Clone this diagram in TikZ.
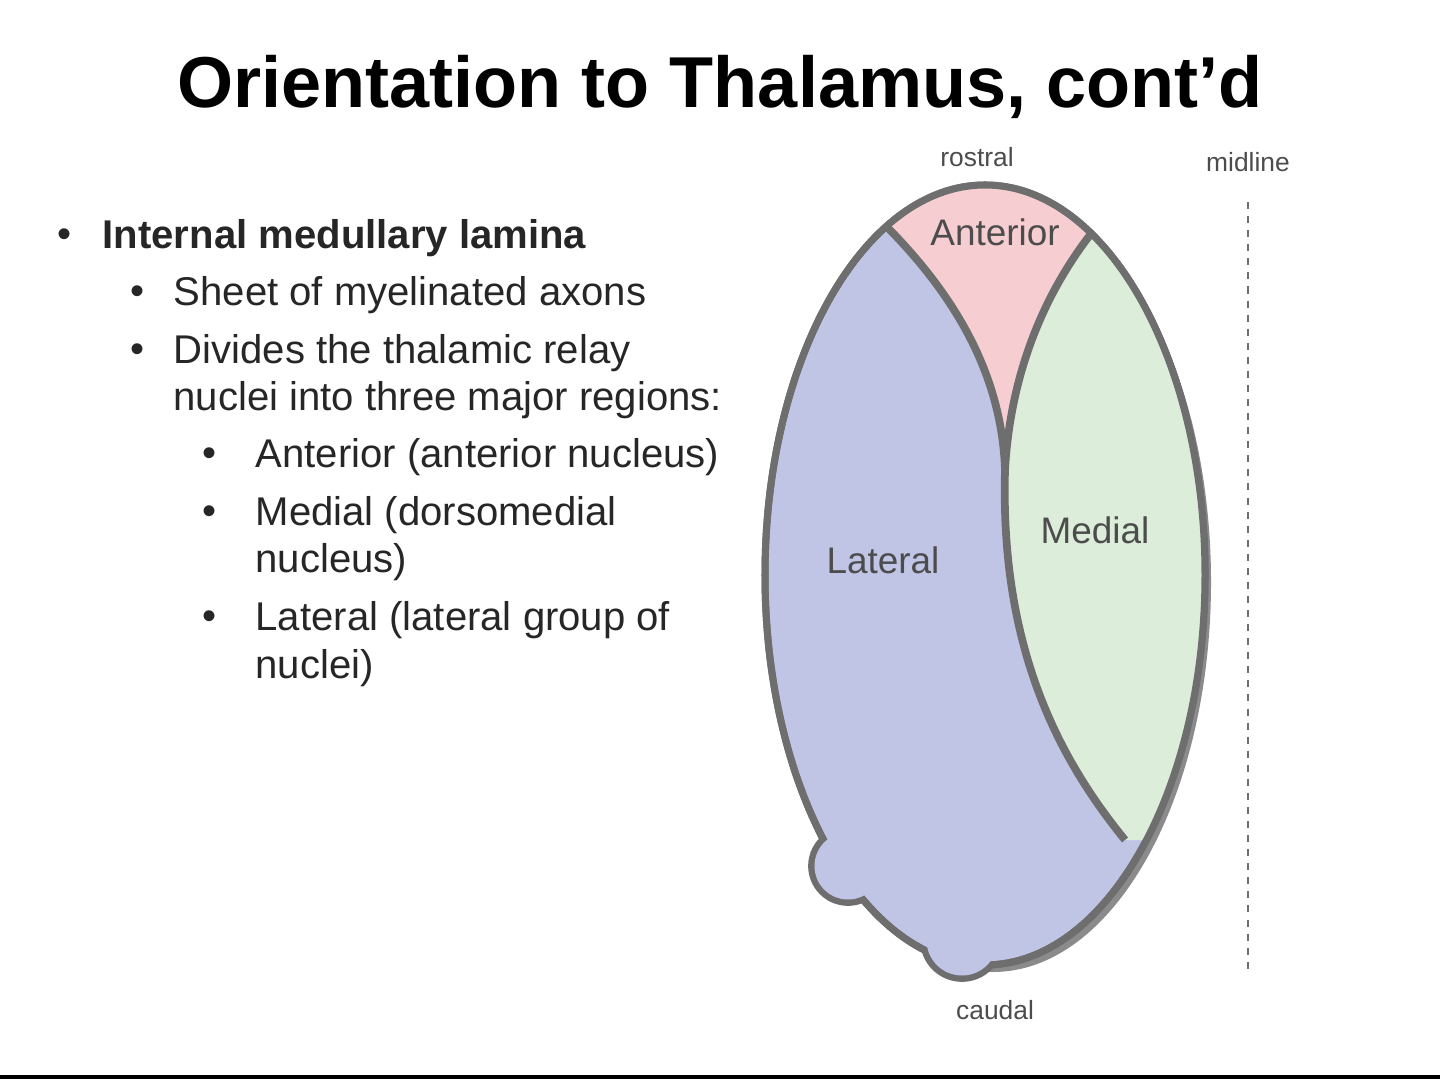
\documentclass[tikz,border=0pt]{standalone}
\usepackage{fontspec}
\setmainfont{Liberation Sans}
\usetikzlibrary{positioning}
\definecolor{latblue}{RGB}{192,197,230}
\definecolor{antpink}{RGB}{246,206,210}
\definecolor{medgreen}{RGB}{220,237,218}
\definecolor{rim}{RGB}{110,110,110}
\tikzset{
  item/.style={anchor=west, inner sep=0pt, font=\fontsize{11.4}{13}\selectfont, text=black!85},
  region/.style={font=\fontsize{10.5}{12}\selectfont, text=black!70},
  tag/.style={font=\fontsize{7.5}{9}\selectfont, text=black!70}
}
\begin{document}
\begin{tikzpicture}[x=0.01cm, y=-0.01cm]
    \useasboundingbox (0,0) rectangle (1440,1080);
    % Title
    \node[font=\fontsize{20.5}{22}\selectfont\bfseries] (title) at (720,87) {Orientation to Thalamus, cont’d};

    % Bullet list
    \node[item] (b1) at (57,238) {•};
    \node[item, font=\fontsize{11.4}{13}\selectfont\bfseries] (t1) at (102,238) {Internal medullary lamina};
    \node[item] (b2) at (130,295) {•};
    \node[item] (t2) at (173,295) {Sheet of myelinated axons};
    \node[item] (b3) at (130,353) {•};
    \node[item] (t3) at (173,353) {Divides the thalamic relay};
    \node[item] (t3b) at (173,400) {nuclei into three major regions:};
    \node[item] (b4) at (202,457) {•};
    \node[item] (t4) at (255,457) {Anterior (anterior nucleus)};
    \node[item] (b5) at (202,515) {•};
    \node[item] (t5) at (255,515) {Medial (dorsomedial};
    \node[item] (t5b) at (255,562) {nucleus)};
    \node[item] (b6) at (202,620) {•};
    \node[item] (t6) at (255,620) {Lateral (lateral group of};
    \node[item] (t6b) at (255,668) {nuclei)};

    % Shadow and bumps
    \fill[rim!80] (993,582) ellipse (218 and 390);
    \filldraw[latblue, draw=rim, line width=2.2pt] (848,866) circle (36);
    \filldraw[latblue, draw=rim, line width=2.2pt] (962,940) circle (38);
    % Thalamus body
    \filldraw[latblue, draw=rim, line width=2pt] (985,575) ellipse (220 and 390);
    \begin{scope}
        \clip (985,575) ellipse (219 and 389);
        \fill[antpink] (885,225) .. controls (960,300) and (1002,380) .. (1005,470)
            .. controls (1010,380) and (1040,300) .. (1090,235) -- (1090,150) -- (885,150) -- cycle;
        \fill[medgreen] (1090,235) .. controls (1040,300) and (1010,380) .. (1005,470)
            .. controls (1000,650) and (1060,760) .. (1125,840) -- (1260,840) -- (1260,235) -- cycle;
    \end{scope}
    \draw[rim, line width=2pt] (985,575) ellipse (220 and 390);
    \fill[latblue] (848,866) circle (33.5);
    \fill[latblue] (962,940) circle (35.5);
    % Internal medullary lamina
    \draw[rim, line width=2.2pt] (885,225) .. controls (960,300) and (1002,380) .. (1005,470)
        .. controls (1000,650) and (1060,760) .. (1125,840);
    \draw[rim, line width=2.2pt] (1090,235) .. controls (1040,300) and (1010,380) .. (1005,470);

    % Region labels
    \node[region] (ant) at (995,232) {Anterior};
    \node[region] (med) at (1095,530) {Medial};
    \node[region] (lat) at (883,560) {Lateral};
    \node[tag] (rostral) at (977,157) {rostral};
    \node[tag] (caudal) at (995,1010) {caudal};
    \node[tag] (midline) at (1248,162) {midline};
    \coordinate (mid end) at (1248,975);
    \draw[rim, dash pattern=on 2pt off 2pt, line width=0.7pt] (midline.south) ++(0,18) -- (mid end);

    % Bottom rule
    \draw[black, line width=1.2pt] (0,1077) -- (1440,1077);
\end{tikzpicture}
\end{document}
